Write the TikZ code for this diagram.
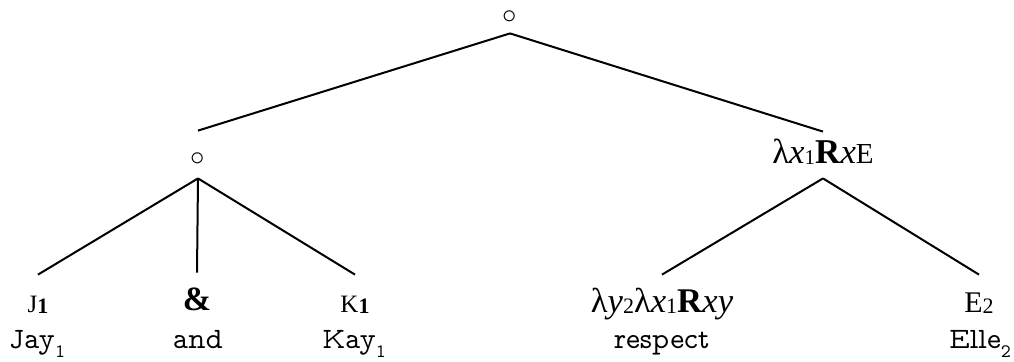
\documentclass[tikz,border=0pt]{standalone}
\usepackage{fontspec}
\setmainfont{Liberation Serif}
\newfontfamily\wordfont{Latin Modern Mono Prop}
% small digit set next to a symbol
\newcommand\symsub[2][9]{\raisebox{-0.5pt}{\fontsize{#1}{#1}\selectfont #2}}
% lowered index after an English word
\newcommand\wordsub[1]{\raisebox{-4.5pt}{\fontsize{9.5}{9.5}\selectfont #1}}
\begin{document}
\begin{tikzpicture}[x=0.5pt,y=-0.5pt,
  branch/.style={line width=1pt},
  inner/.style={anchor=base, inner sep=0pt},
  leaf/.style={anchor=base, inner sep=0pt, text height=18.5pt,
    font=\fontsize{17.3}{17.3}\selectfont},
  word/.style={anchor=base, inner sep=0pt,
    font=\wordfont\fontsize{14.8}{14.8}\selectfont}]
\useasboundingbox (0,0) rectangle (1014,361);

% inner nodes
\node[inner, text height=4pt, text depth=5pt, font=\fontsize{14}{14}\selectfont]
  (top) at (510,23) {$\circ$};
\node[inner, text height=17pt, text depth=6.5pt, font=\fontsize{14}{14}\selectfont]
  (l) at (198,165) {$\circ$};
\node[inner, text height=15.5pt, text depth=7.5pt, font=\fontsize{17.4}{17.4}\selectfont]
  (r) at (823,163)
  {λ\textit{x}\symsub[10.5]{1}\textbf{R}\textit{x}{\fontsize{14.5}{14.5}\selectfont E}};

% leaves: semantic value
\node[leaf] (j) at (38,312)
  {{\fontsize{12.5}{12.5}\selectfont J}\symsub[11]{\bfseries 1}};
\node[leaf] (amp) at (197,310) {{\fontsize{17}{17}\selectfont\bfseries \&}};
\node[leaf] (k) at (355,312)
  {{\fontsize{12.5}{12.5}\selectfont K}\symsub[11]{\bfseries 1}};
\node[leaf] (rel) at (662,312)
  {λ\textit{y}\symsub[11]{2}λ\textit{x}\symsub[11]{1}\textbf{R}\textit{xy}};
\node[leaf] (e) at (979,312)
  {{\fontsize{15}{15}\selectfont E}\symsub[11]{2}};

% leaves: words
\node[word] (wj) at (37,348) {Jay\wordsub{1}};
\node[word] (wa) at (198,348) {and};
\node[word] (wk) at (354,348) {Kay\wordsub{1}};
\node[word] (wr) at (662,348) {respect};
\node[word] (we) at (980,348) {Elle\wordsub{2}};

% branches
\draw[branch] (top.south) -- (l.north);
\draw[branch] (top.south) -- (r.north);
\draw[branch] (l.south) -- (j.north);
\draw[branch] (l.south) -- (amp.north);
\draw[branch] (l.south) -- (k.north);
\draw[branch] (r.south) -- (rel.north);
\draw[branch] (r.south) -- (e.north);
\end{tikzpicture}
\end{document}
